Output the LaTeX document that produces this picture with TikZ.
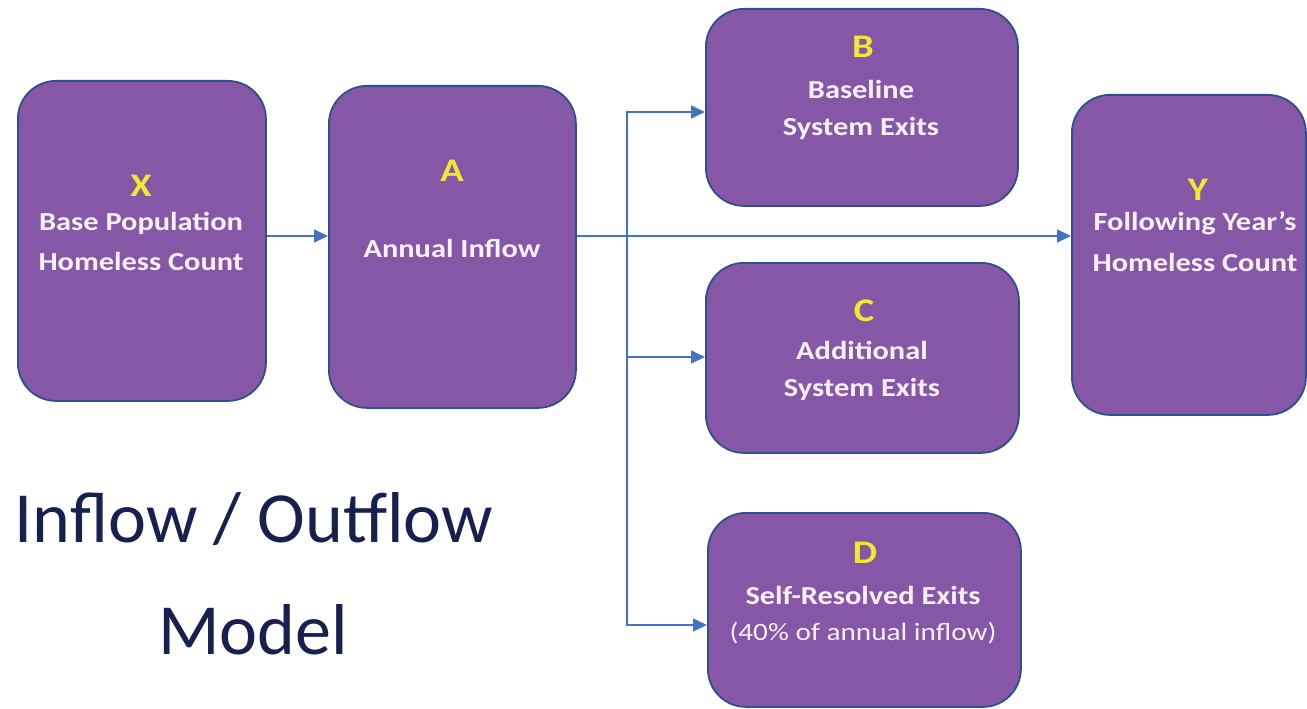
\documentclass[tikz,border=0pt]{standalone}
\usepackage{fontspec}
\setmainfont{Carlito}
\newfontfamily\boxfont[FakeStretch=1.17]{Carlito}
\usetikzlibrary{arrows.meta}
\definecolor{boxfill}{RGB}{133,87,166}
\definecolor{boxborder}{RGB}{47,78,140}
\definecolor{arrowcol}{RGB}{68,114,196}
\definecolor{lettcol}{RGB}{244,230,50}
\definecolor{txtcol}{RGB}{250,240,250}
\definecolor{titlecol}{RGB}{24,32,80}
\begin{document}
\begin{tikzpicture}[x=1pt,y=-1pt,
  box/.style={draw=boxborder, line width=1.8pt, fill=boxfill, rounded corners=38pt, anchor=north west, inner sep=0pt},
  lett/.style={text=lettcol, font=\boxfont\bfseries\fontsize{33}{36}\selectfont, inner sep=0pt},
  lbl/.style={text=txtcol, font=\boxfont\bfseries\fontsize{26}{30}\selectfont, inner sep=0pt},
  sublbl/.style={text=txtcol, font=\boxfont\fontsize{25}{28}\selectfont, inner sep=0pt},
  flow/.style={draw=arrowcol, line width=1.6pt, -{Triangle[length=14pt,width=13pt]}},
  ttl/.style={text=titlecol, font=\fontsize{72}{80}\selectfont, inner sep=0pt},
]
\useasboundingbox (0,0) rectangle (1307,709);
% boxes
\node[box, minimum width=248pt, minimum height=320pt] (X) at (17,80) {};
\node[box, minimum width=247pt, minimum height=322pt] (A) at (328,85) {};
\node[box, minimum width=312pt, minimum height=197pt] (B) at (705,8) {};
\node[box, minimum width=313pt, minimum height=190pt] (C) at (705,262) {};
\node[box, minimum width=313pt, minimum height=194pt] (D) at (707,512) {};
\node[box, minimum width=234pt, minimum height=320pt] (Y) at (1071,94) {};
% box texts
\node[lett] (Xl) at (141,186) {X};
\node[lbl] (Xt1) at (141,223) {Base Population};
\node[lbl] (Xt2) at (141,261) {Homeless Count};
\node[lett] (Al) at (452,171) {A};
\node[lbl] (At1) at (452,248) {Annual Inflow};
\node[lett] (Bl) at (863,47) {B};
\node[lbl] (Bt1) at (861,89) {Baseline};
\node[lbl] (Bt2) at (861,128) {System Exits};
\node[lett] (Cl) at (864,311) {C};
\node[lbl] (Ct1) at (862,350) {Additional};
\node[lbl] (Ct2) at (862,389) {System Exits};
\node[lett] (Dl) at (865,553) {D};
\node[lbl] (Dt1) at (863,595) {Self-Resolved Exits};
\node[sublbl] (Dt2) at (863,633) {(40\% of annual inflow)};
\node[lett] (Yl) at (1198,190) {Y};
\node[lbl] (Yt1) at (1195,223) {Following Year’s};
\node[lbl] (Yt2) at (1195,262) {Homeless Count};
% title
\node[ttl] (T1) at (254,519) {Inflow / Outflow};
\node[ttl] (T2) at (253,630) {Model};
% connectors
\coordinate (mainrow) at (0,236);
\coordinate (brow) at (0,112);
\coordinate (crow) at (0,357);
\coordinate (drow) at (0,625);
\coordinate (fork) at (627,236);
\draw[flow] (X.east |- mainrow) -- (A.west |- mainrow);
\draw[flow] (A.east |- mainrow) -- (Y.west |- mainrow);
\draw[flow] (fork) |- (B.west |- brow);
\draw[flow] (fork) |- (C.west |- crow);
\draw[flow] (fork) |- (D.west |- drow);
\end{tikzpicture}
\end{document}
